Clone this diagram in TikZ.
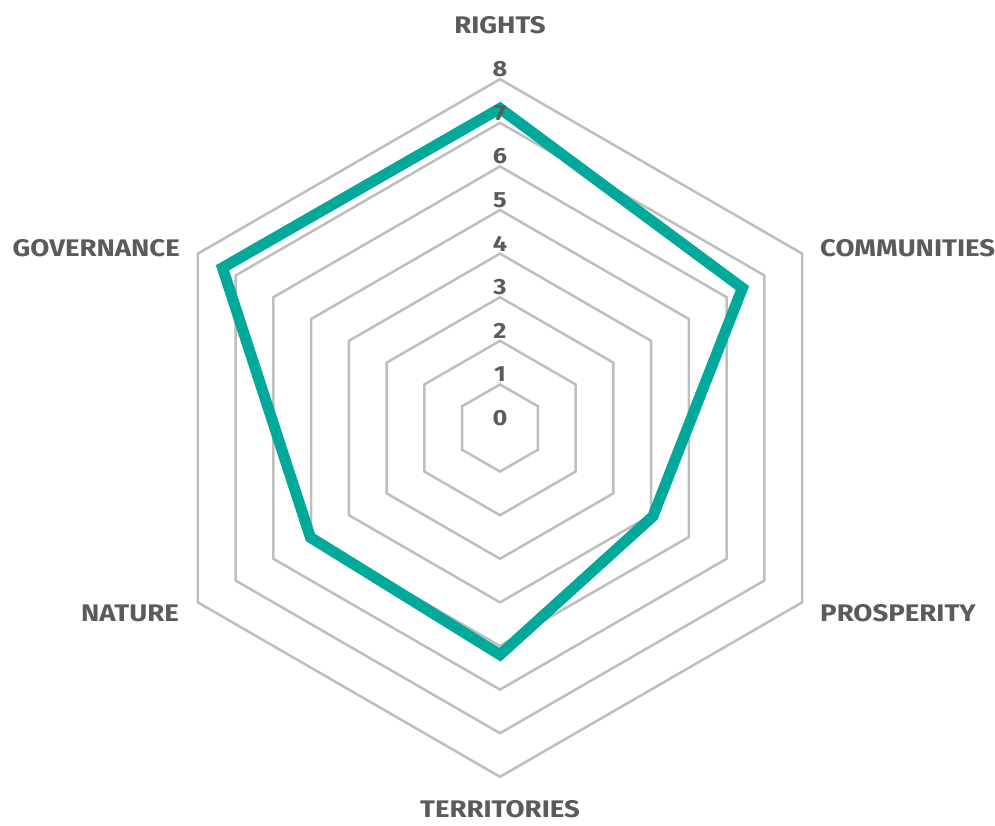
\documentclass[tikz,border=0pt]{standalone}
\usepackage{fontspec}
\setmainfont{Fira Sans}[FakeStretch=1.1]
\newfontfamily\chartfont{Fira Sans}[UprightFont=* Bold, FakeStretch=1.15]
\usepackage{tikz}
\usetikzlibrary{positioning, calc}
\definecolor{gridgray}{HTML}{BEBEBE}
\definecolor{scoreteal}{HTML}{00A99A}
\definecolor{textgray}{HTML}{5B5B5B}

\begin{document}
\begin{tikzpicture}[x=1pt,y=1pt,
  grid line/.style={draw=gridgray, line width=2.5pt, line join=miter},
  score line/.style={draw=scoreteal, line width=11pt, line join=miter},
  axis label/.style={font=\chartfont\fontsize{24}{24}\selectfont, text=textgray, inner sep=0pt},
  tick label/.style={font=\chartfont\fontsize{22}{22}\selectfont, text=textgray, inner sep=0pt}]
  \useasboundingbox (-500,-397) rectangle (495,428);
  \def\ring{43.6}
  % rings 1..8
  \foreach \r in {1,...,8}
    \draw[grid line] (90:\r*\ring) -- (30:\r*\ring) -- (-30:\r*\ring)
      -- (-90:\r*\ring) -- (-150:\r*\ring) -- (150:\r*\ring) -- cycle;
  % scores
  \coordinate (rights) at (90:7.33*\ring);
  \coordinate (communities) at (30:6.42*\ring);
  \coordinate (prosperity) at (-30:4.05*\ring);
  \coordinate (territories) at (-90:5.2*\ring);
  \coordinate (nature) at (-150:5.02*\ring);
  \coordinate (governance) at (150:7.35*\ring);
  \draw[score line] (rights) -- (communities) -- (prosperity) -- (territories)
    -- (nature) -- (governance) -- cycle;
  % scale
  \foreach \v in {0,...,8}
    \node[tick label] (t\v) at (0,\v*\ring+10) {\v};
  % axis names
  \node[axis label] (l-rights) at (0,403) {RIGHTS};
  \node[axis label, anchor=west] (l-communities) at (320,180) {COMMUNITIES};
  \node[axis label, anchor=west] (l-prosperity) at (320,-185) {PROSPERITY};
  \node[axis label] (l-territories) at (0,-381) {TERRITORIES};
  \node[axis label, anchor=east] (l-nature) at (-321,-185) {NATURE};
  \node[axis label, anchor=east] (l-governance) at (-320,180) {GOVERNANCE};
\end{tikzpicture}
\end{document}
